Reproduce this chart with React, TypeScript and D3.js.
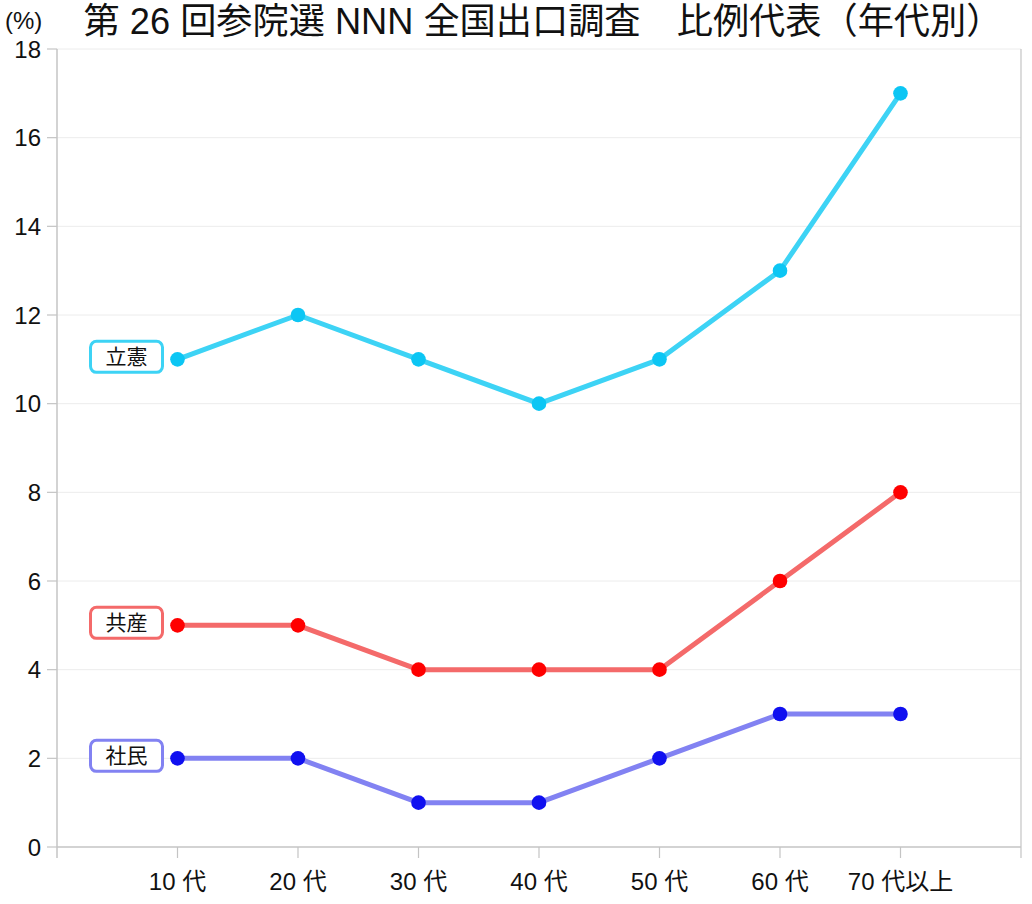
import React from "react";
import * as d3 from "d3";

const title = "第 26 回参院選 NNN 全国出口調査　比例代表（年代別）";
const categories = ["10 代", "20 代", "30 代", "40 代", "50 代", "60 代", "70 代以上"];
const yTicks = [0, 2, 4, 6, 8, 10, 12, 14, 16, 18];
const rikken = [11, 12, 11, 10, 11, 13, 17];
const kyosan = [5, 5, 4, 4, 4, 6, 8];
const shamin = [2, 2, 1, 1, 2, 3, 3];
const seriesNames = ["立憲", "共産", "社民"];
const seriesValues = [rikken, kyosan, shamin];
const lineColors = ["#3dd3f5", "#f46a6a", "#8282f2"];
const dotColors = ["#0cc6f4", "#ff0000", "#1010f0"];

const W = 1032, H = 904;
const FONT = "'Liberation Sans', Arial, 'Noto Sans CJK JP', sans-serif";

export default function App() {
  const left = 57, right = 1021, top = 49, bottom = 847;
  const x = d3.scaleLinear().domain([0, 8]).range([left, right]);
  const y = d3.scaleLinear().domain([0, 18]).range([bottom, top]);
  const line = d3.line<number>().x((_, i) => x(i + 1)).y((d) => y(d));
  const axisColor = "#c4c4c4";
  const gridColor = "#ececec";
  return (
    <svg width={W} height={H} style={{ position: "absolute", left: 0, top: 0, background: "#fff" }} fontFamily={FONT}>
      <rect x={0} y={0} width={W} height={H} fill="#fff" />
      {yTicks.map((t) => (
        <g key={t}>
          {t > 0 && <line x1={left} x2={right} y1={y(t)} y2={y(t)} stroke={gridColor} strokeWidth={1} />}
          <line x1={left - 10} x2={left} y1={y(t)} y2={y(t)} stroke={axisColor} strokeWidth={1.2} />
          <text x={left - 16} y={y(t)} dy="0.36em" textAnchor="end" fontSize={24} fill="#111">{t}</text>
        </g>
      ))}
      <line x1={right} x2={right} y1={top} y2={bottom + 11} stroke={axisColor} strokeWidth={1.2} />
      <line x1={left} x2={left} y1={top} y2={bottom + 11} stroke={axisColor} strokeWidth={1.5} />
      <line x1={left} x2={right} y1={bottom} y2={bottom} stroke={axisColor} strokeWidth={1.5} />
      {categories.map((c, i) => (
        <g key={c}>
          <line x1={x(i + 1)} x2={x(i + 1)} y1={bottom} y2={bottom + 11} stroke={axisColor} strokeWidth={1.2} />
          <text x={x(i + 1)} y={bottom + 43} textAnchor="middle" fontSize={24} fill="#111">{c}</text>
        </g>
      ))}
      {seriesValues.map((vals, s) => (
        <g key={seriesNames[s]}>
          <path d={line(vals) || ""} fill="none" stroke={lineColors[s]} strokeWidth={5} strokeLinejoin="round" />
          {vals.map((v, i) => (
            <circle key={i} cx={x(i + 1)} cy={y(v)} r={7.3} fill={dotColors[s]} />
          ))}
          <rect x={x(1) - 87} y={y(vals[0]) - 18} width={72} height={31} rx={6} fill="#fff" stroke={lineColors[s]} strokeWidth={3} />
          <text x={x(1) - 51} y={y(vals[0]) - 2.5} dy="0.36em" textAnchor="middle" fontSize={21} fill="#111">{seriesNames[s]}</text>
        </g>
      ))}
      <text x={5} y={29} fontSize={24} fill="#111">(%)</text>
      <text x={543} y={34} textAnchor="middle" fontSize={36.2} fill="#111">{title}</text>
    </svg>
  );
}
